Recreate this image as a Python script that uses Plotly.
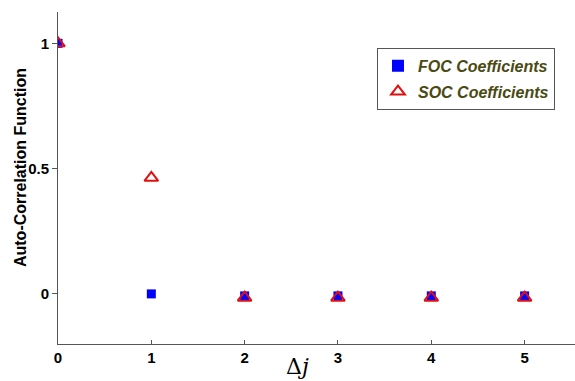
import plotly.graph_objects as go

lags = [0, 1, 2, 3, 4, 5]
foc = [1.0, 0.0, -0.008, -0.008, -0.008, -0.008]
soc = [1.0, 0.463, -0.015, -0.015, -0.015, -0.015]
x_ticks = [0, 1, 2, 3, 4, 5]
y_ticks = [0, 0.5, 1]
y_tick_text = ["0", "0.5", "1"]

fig = go.Figure()
fig.add_trace(go.Scatter(x=lags, y=foc, mode="markers", name="FOC Coefficients",
                         legendgroup="a",
                         marker=dict(symbol="square", size=9, color="#0000ff")))
fig.add_trace(go.Scatter(x=lags, y=soc, mode="markers", name="SOC Coefficients",
                         legendgroup="b",
                         marker=dict(symbol="triangle-up-open", size=12, color="#e01010",
                                     line=dict(width=2, color="#e01010"))))

fig.update_layout(
    width=575, height=381,
    margin=dict(l=58, r=0, t=12, b=37),
    paper_bgcolor="white", plot_bgcolor="white",
    font=dict(family="Liberation Sans, Arial", size=15, color="black"),
    showlegend=True,
    legend=dict(x=0.617, y=0.892, xanchor="left", yanchor="top",
                bordercolor="#555555", borderwidth=1, bgcolor="white",
                font=dict(size=16, color="#4a4a12", family="Liberation Sans, Arial",
                          weight="bold", style="italic"),
                itemsizing="constant", tracegroupgap=2),
    xaxis=dict(range=[0, 5.54], tickvals=x_ticks, ticktext=[str(v) for v in x_ticks],
               showgrid=False, zeroline=False, showline=True, linecolor="#555555",
               linewidth=1, ticks="inside", ticklen=4, tickcolor="#555555",
               tickfont=dict(size=15, weight="bold")),
    yaxis=dict(range=[-0.2, 1.125], tickvals=y_ticks, ticktext=y_tick_text,
               showgrid=False, zeroline=False, showline=True, linecolor="#555555",
               linewidth=1, ticks="outside", ticklen=5, tickcolor="#555555",
               tickfont=dict(size=15, weight="bold")),
    annotations=[
        dict(text="Δ<i>j</i>", x=2.57, xref="x", y=0, yref="paper",
             yshift=-37, yanchor="bottom", showarrow=False,
             font=dict(family="DejaVu Serif, serif", size=22)),
        dict(text="Auto-Correlation Function", x=-0.0735, xref="paper", xanchor="center",
             y=0.53, yref="paper", yanchor="middle", textangle=-90, showarrow=False,
             font=dict(size=16, weight="bold")),
    ],
)

fig.write_html("out.html")
